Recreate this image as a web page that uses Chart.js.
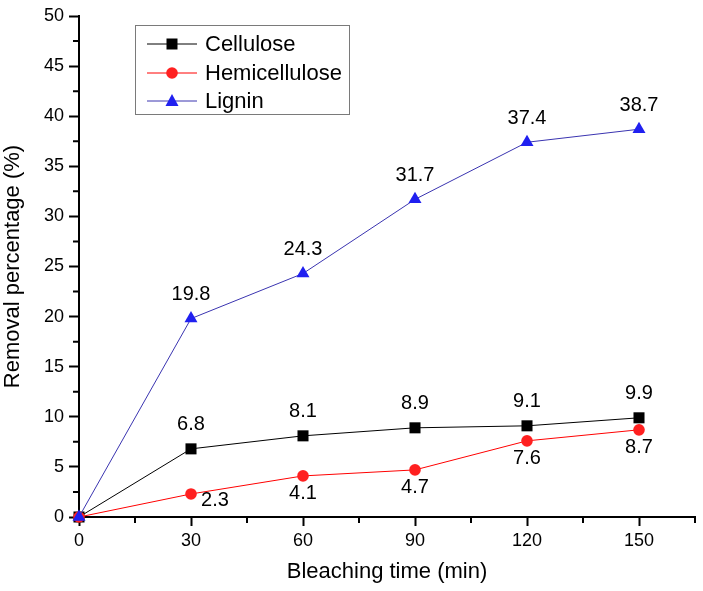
<!DOCTYPE html>
<html>
<head>
<meta charset="utf-8">
<script src="https://cdn.jsdelivr.net/npm/chart.js@4"></script>
<style>
    body { margin: 0; background: #fff; }
    #wrap { width: 703px; height: 591px; }
</style>
</head>
<body>
<div id="wrap"><canvas id="removalCanvas"></canvas></div>
<script>
const times = [0, 30, 60, 90, 120, 150];
const cellulose = [0, 6.8, 8.1, 8.9, 9.1, 9.9];
const hemicellulose = [0, 2.3, 4.1, 4.7, 7.6, 8.7];
const lignin = [0, 19.8, 24.3, 31.7, 37.4, 38.7];
const seriesNames = ["Cellulose", "Hemicellulose", "Lignin"];

Chart.defaults.font.family = "'Liberation Sans', Arial, sans-serif";
Chart.defaults.color = "#000";

function toPoints(values) {
    return values.map((v, i) => ({ x: times[i], y: v }));
}

// where each series puts its value labels, relative to the marker
const labelOffsets = [
    () => ({ dx: 0, dy: -24 }),
    (i) => (i === 1 ? { dx: 24, dy: 7 } : { dx: 0, dy: 18 }),
    () => ({ dx: 0, dy: -24 }),
];

const valueLabels = {
    id: "valueLabels",
    afterDatasetsDraw(chart) {
        const ctx = chart.ctx;
        ctx.save();
        ctx.font = "20px 'Liberation Sans', Arial, sans-serif";
        ctx.fillStyle = "#000";
        ctx.textAlign = "center";
        ctx.textBaseline = "middle";
        chart.data.datasets.forEach((ds, d) => {
            chart.getDatasetMeta(d).data.forEach((pt, i) => {
                if (i === 0) return;
                const off = labelOffsets[d](i);
                ctx.fillText(ds.data[i].y.toFixed(1), pt.x + off.dx, pt.y + off.dy);
            });
        });
        ctx.restore();
    },
};

const minorTicks = {
    id: "minorTicks",
    afterDraw(chart) {
        const ctx = chart.ctx;
        const xs = chart.scales.x;
        const ys = chart.scales.y;
        ctx.save();
        ctx.strokeStyle = "#000";
        ctx.lineWidth = 2;
        ctx.beginPath();
        for (let v = 15; v <= 165; v += 30) {
            const px = xs.getPixelForValue(v);
            ctx.moveTo(px, ys.bottom);
            ctx.lineTo(px, ys.bottom + 6);
        }
        for (let v = 2.5; v < 50; v += 5) {
            const py = ys.getPixelForValue(v);
            ctx.moveTo(xs.left, py);
            ctx.lineTo(xs.left - 6, py);
        }
        ctx.stroke();
        ctx.restore();
    },
};

function drawMarker(ctx, style, x, y, color) {
    ctx.fillStyle = color;
    ctx.beginPath();
    if (style === "rect") {
        ctx.rect(x - 5.5, y - 5.5, 11, 11);
    } else if (style === "circle") {
        ctx.arc(x, y, 5.8, 0, Math.PI * 2);
    } else {
        ctx.moveTo(x, y - 7);
        ctx.lineTo(x + 6.5, y + 5);
        ctx.lineTo(x - 6.5, y + 5);
        ctx.closePath();
    }
    ctx.fill();
}

const boxLegend = {
    id: "boxLegend",
    afterDraw(chart) {
        const ctx = chart.ctx;
        ctx.save();
        ctx.strokeStyle = "#7a7a7a";
        ctx.lineWidth = 1;
        ctx.strokeRect(135.5, 25.5, 214, 89);
        ctx.font = "22px 'Liberation Sans', Arial, sans-serif";
        ctx.textBaseline = "middle";
        const rows = [44, 73, 101];
        chart.data.datasets.forEach((ds, d) => {
            const y = rows[d];
            ctx.strokeStyle = ds.borderColor;
            ctx.beginPath();
            ctx.moveTo(147, y);
            ctx.lineTo(197, y);
            ctx.stroke();
            drawMarker(ctx, ds.pointStyle, 172, y, ds.pointBackgroundColor);
            ctx.fillStyle = "#000";
            ctx.fillText(ds.label, 205, y + 1);
        });
        ctx.restore();
    },
};

function series(label, values, line, fill, style, radius, order) {
    return {
        label: label,
        data: toPoints(values),
        borderColor: line,
        borderWidth: 1,
        pointStyle: style,
        pointRadius: radius,
        pointHoverRadius: radius,
        pointBackgroundColor: fill,
        pointBorderColor: fill,
        pointBorderWidth: 0,
        tension: 0,
        clip: false,
        order: order,
    };
}

const ctx = document.getElementById("removalCanvas").getContext("2d");
const removalChart = new Chart(ctx, {
    type: "line",
    data: {
        datasets: [
            series(seriesNames[0], cellulose, "#000000", "#000000", "rect", 7.8, 2),
            series(seriesNames[1], hemicellulose, "#ff0000", "#ff2020", "circle", 5.8, 1),
            series(seriesNames[2], lignin, "#3a34b0", "#2020f0", "triangle", 7.5, 0),
        ],
    },
    options: {
        responsive: true,
        maintainAspectRatio: false,
        animation: false,
        events: [],
        layout: { padding: { top: 16, right: 8, left: 0, bottom: 0 } },
        plugins: {
            legend: { display: false },
            tooltip: { enabled: false },
        },
        scales: {
            x: {
                type: "linear",
                min: 0,
                max: 165,
                afterFit: (scale) => { scale.height = 74; },
                border: { color: "#000", width: 2 },
                grid: { drawOnChartArea: false, tickLength: 9, tickWidth: 2, tickColor: "#000" },
                ticks: { stepSize: 30, includeBounds: false, padding: 4, font: { size: 18 } },
                title: {
                    display: true,
                    text: "Bleaching time (min)",
                    font: { size: 22 },
                    padding: { top: 0, bottom: 6 },
                },
            },
            y: {
                min: 0,
                max: 50,
                afterFit: (scale) => { scale.width = 79; },
                border: { color: "#000", width: 2 },
                grid: { drawOnChartArea: false, tickLength: 10, tickWidth: 2, tickColor: "#000" },
                ticks: { stepSize: 5, padding: 5, font: { size: 18 } },
                title: {
                    display: true,
                    text: "Removal percentage (%)",
                    font: { size: 22 },
                    padding: { top: 0, bottom: 0 },
                },
            },
        },
    },
    plugins: [valueLabels, minorTicks, boxLegend],
});
</script>
</body>
</html>
